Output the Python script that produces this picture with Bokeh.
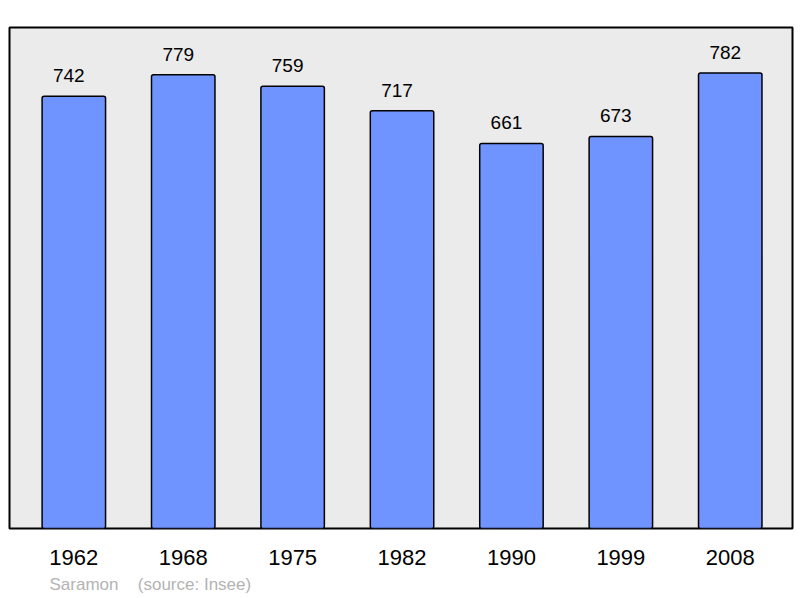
from bokeh.plotting import figure
from bokeh.models import (ColumnDataSource, Range1d, LabelSet, LinearAxis, FixedTicker)
from bokeh.core.properties import value
from bokeh.embed import file_html
from bokeh.resources import INLINE

years = ["1962", "1968", "1975", "1982", "1990", "1999", "2008"]
population = [742, 779, 759, 717, 661, 673, 782]
note_texts = ["Saramon", "(source: Insee)"]

idx = list(range(len(years)))
src = ColumnDataSource(dict(i=idx, year=years, pop=population,
                            lab=[str(v) for v in population]))

p = figure(width=800, height=598, output_backend="svg", toolbar_location=None,
           x_range=Range1d(-0.588, len(years) - 1 + 0.569),
           y_range=Range1d(0, 860), y_axis_location=None,
           min_border_left=9, min_border_right=8, min_border_top=27, min_border_bottom=70)

p.background_fill_color = "#ebebeb"
p.border_fill_color = "white"
p.outline_line_color = "black"
p.outline_line_width = 2
p.grid.visible = False

p.vbar(x="i", top="pop", width=0.58, source=src, fill_color="#7094ff",
       line_color="black", line_width=1.5, border_radius=2)

labels = LabelSet(x="i", y="pop", text="lab", source=src, x_offset=-5, y_offset=14,
                  text_align="center", text_baseline="alphabetic",
                  text_font=value("Liberation Sans"), text_font_size=value("19px"),
                  text_color="black")
p.add_layout(labels)

ax = p.xaxis[0]
ax.ticker = FixedTicker(ticks=idx)
ax.major_label_overrides = {i: y for i, y in zip(idx, years)}
ax.axis_line_color = None
ax.major_tick_line_color = None
ax.minor_tick_line_color = None
ax.major_label_standoff = 15
ax.major_label_text_font = "Liberation Sans"
ax.major_label_text_font_size = "22px"
ax.major_label_text_color = "black"

# note line below the year labels, drawn as a second bottom axis in pixel-like units
p.extra_x_ranges = {"note": Range1d(0, 783)}
note_pos = [74.5, 185.0]
note_ax = LinearAxis(x_range_name="note", ticker=FixedTicker(ticks=note_pos),
                     major_label_overrides={k: t for k, t in zip(note_pos, note_texts)})
note_ax.axis_line_color = None
note_ax.major_tick_line_color = None
note_ax.minor_tick_line_color = None
note_ax.major_tick_out = 0
note_ax.major_tick_in = 0
note_ax.major_label_standoff = 7
note_ax.major_label_text_font = "Liberation Sans"
note_ax.major_label_text_font_size = "17px"
note_ax.major_label_text_color = "#b3b3b3"
p.add_layout(note_ax, "below")

open("out.html", "w").write(file_html(p, INLINE))
